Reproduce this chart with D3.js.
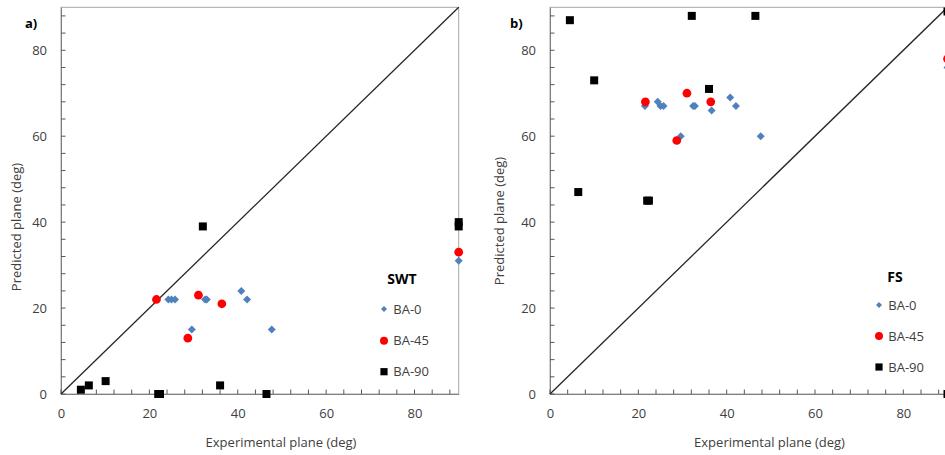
<!DOCTYPE html>
<html>
<head>
<meta charset="utf-8">
<script src="https://cdn.jsdelivr.net/npm/d3@7"></script>
<style>
  body { margin: 0; background: #fff; }
  svg { display: block; font-family: "Open Sans", sans-serif; }
</style>
</head>
<body>
<svg width="945" height="455"></svg>
<script>
// values, [experimental, predicted] in degrees
const swtBA0  = [[24.3, 22], [25.0, 22], [25.8, 22], [29.6, 15], [32.6, 22], [33.0, 22],
                 [40.8, 24], [42.1, 22], [47.7, 15], [90, 31]];
const swtBA45 = [[21.6, 22], [28.7, 13], [31.1, 23], [36.4, 21], [90, 33]];
const swtBA90 = [[4.5, 1], [6.3, 2], [10.1, 3], [22.0, 0], [22.4, 0], [32.1, 39],
                 [36.0, 2], [46.5, 0], [90, 40], [90, 39]];

const fsBA0  = [[21.5, 67], [24.4, 68], [25.0, 67], [25.7, 67], [29.6, 60], [32.4, 67],
                [32.8, 67], [36.6, 66], [40.8, 69], [42.1, 67], [47.7, 60], [90, 76]];
const fsBA45 = [[21.6, 68], [28.7, 59], [31.0, 70], [36.4, 68], [90, 78]];
const fsBA90 = [[4.5, 87], [6.4, 47], [10.0, 73], [22.0, 45], [22.4, 45], [32.1, 88],
                [36.0, 71], [46.5, 88], [90, 89], [90, 0]];

const seriesNames = ["BA-0", "BA-45", "BA-90"];
const tickVals = d3.range(0, 89, 4);
const labelVals = [0, 20, 40, 60, 80];
const axisMax = 90;

const svg = d3.select("svg");

const colors = {
  ba0: "#4f81bd",
  ba45: "#ff0000",
  ba90: "#000000",
  axis: "#595959",
  frame: "#a6a6a6",
  text: "#404040"
};

const markers = {
  "BA-0":  { color: colors.ba0,  type: d3.symbolSquare, size: 32, legendSize: 18, rotate: 45 },
  "BA-45": { color: colors.ba45, type: d3.symbolCircle, size: 60, legendSize: 50, rotate: 0 },
  "BA-90": { color: colors.ba90, type: d3.symbolSquare, size: 64, legendSize: 52, rotate: 0 }
};

const panels = [
  { label: "a)", title: "SWT", series: [swtBA0, swtBA45, swtBA90],
    left: 61, right: 458.7, labelX: 25, yTitleX: 20.5, yTitleY: 227, xTitleX: 281,
    legX: 384, legTitleX: 402, legTitleY: 284, legRows: [309, 340.7, 371.7] },
  { label: "b)", title: "FS", series: [fsBA0, fsBA45, fsBA90],
    left: 550, right: 947.5, labelX: 510, yTitleX: 504, yTitleY: 221, xTitleX: 769.5,
    legX: 879, legTitleX: 895, legTitleY: 281.7, legRows: [305, 336, 367] }
];

const plotTop = 7.3, plotBottom = 394;

panels.forEach(function(p) {
  const x = d3.scaleLinear().domain([0, axisMax]).range([p.left, p.right]);
  const y = d3.scaleLinear().domain([0, axisMax]).range([plotBottom, plotTop]);
  const g = svg.append("g");

  // plot frame
  g.append("rect")
    .attr("x", p.left).attr("y", plotTop)
    .attr("width", p.right - p.left).attr("height", plotBottom - plotTop)
    .attr("fill", "none").attr("stroke", colors.frame).attr("stroke-width", 1);

  // axes: labels from d3 axis, short inside ticks drawn separately
  const xAxis = d3.axisBottom(x).tickValues(labelVals)
    .tickSize(0).tickPadding(15);
  const yAxis = d3.axisLeft(y).tickValues(labelVals)
    .tickSize(0).tickPadding(14);

  g.append("g").attr("transform", `translate(0,${plotBottom})`).call(xAxis);
  g.append("g").attr("transform", `translate(${p.left},0)`).call(yAxis);

  g.selectAll(".domain").attr("stroke", "#7f7f7f");
  g.selectAll(".tick text")
    .attr("fill", colors.text).style("font-size", "13px")
    .style("font-family", "'Open Sans', sans-serif");

  g.append("g").selectAll("line")
    .data(tickVals).enter().append("line")
    .attr("x1", d => x(d)).attr("x2", d => x(d))
    .attr("y1", plotBottom).attr("y2", plotBottom - 4.5)
    .attr("stroke", colors.axis).attr("stroke-width", 1);

  g.append("g").selectAll("line")
    .data(tickVals).enter().append("line")
    .attr("x1", p.left).attr("x2", p.left + 4.5)
    .attr("y1", d => y(d)).attr("y2", d => y(d))
    .attr("stroke", colors.axis).attr("stroke-width", 1);

  // 1:1 line
  g.append("line")
    .attr("x1", x(0)).attr("y1", y(0))
    .attr("x2", x(axisMax)).attr("y2", y(axisMax))
    .attr("stroke", "#262626").attr("stroke-width", 1.3);

  // points
  p.series.forEach(function(data, i) {
    const m = markers[seriesNames[i]];
    const sym = d3.symbol().type(m.type).size(m.size);
    g.append("g").selectAll("path")
      .data(data).enter().append("path")
      .attr("d", sym)
      .attr("transform", d => `translate(${x(d[0])},${y(d[1])}) rotate(${m.rotate})`)
      .attr("fill", m.color);
  });

  // titles
  g.append("text")
    .attr("x", p.labelX).attr("y", 28)
    .style("font-size", "13px").style("font-weight", "bold")
    .attr("fill", "#000").text(p.label);

  g.append("text")
    .attr("transform", `translate(${p.yTitleX},${p.yTitleY}) rotate(-90)`)
    .attr("text-anchor", "middle")
    .style("font-size", "13px").attr("fill", colors.text)
    .text("Predicted plane (deg)");

  g.append("text")
    .attr("x", p.xTitleX).attr("y", 447)
    .attr("text-anchor", "middle")
    .style("font-size", "13px").attr("fill", colors.text)
    .text("Experimental plane (deg)");

  // legend
  g.append("text")
    .attr("x", p.legTitleX).attr("y", p.legTitleY)
    .attr("text-anchor", "middle")
    .style("font-size", "14px").style("font-weight", "bold")
    .attr("fill", "#000").text(p.title);

  seriesNames.forEach(function(name, i) {
    const m = markers[name];
    const cy = p.legRows[i];
    g.append("path")
      .attr("d", d3.symbol().type(m.type).size(m.legendSize))
      .attr("transform", `translate(${p.legX},${cy}) rotate(${m.rotate})`)
      .attr("fill", m.color);
    g.append("text")
      .attr("x", p.legX + 9.3).attr("y", cy + 4.6)
      .style("font-size", "13px").attr("fill", colors.text)
      .text(name);
  });
});
</script>
</body>
</html>
